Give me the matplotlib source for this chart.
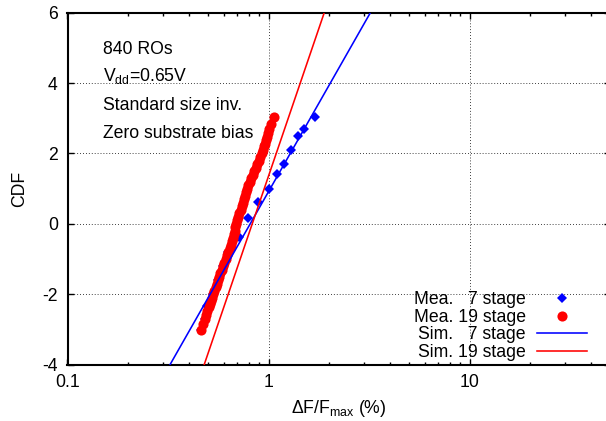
import matplotlib
matplotlib.use("Agg")
import matplotlib.pyplot as plt
from matplotlib.ticker import LogLocator, FixedLocator, NullFormatter

# ---- data ----
mea7_x = [0.461, 0.482, 0.494, 0.530, 0.561, 0.594, 0.630, 0.713, 0.795, 0.886, 1.0, 1.101, 1.201, 1.297, 1.401, 1.505, 1.707]
mea7_y = [-3.03, -2.70, -2.34, -2.00, -1.60, -1.20, -0.80, -0.37, 0.16, 0.63, 1.00, 1.41, 1.69, 2.10, 2.50, 2.69, 3.03]

mea19_y = [-3.03, -2.85, -2.70, -2.58, -2.47, -2.37, -2.28, -2.20, -2.10, -2.00,
           -1.90, -1.80, -1.70, -1.60, -1.50, -1.40, -1.30, -1.20, -1.10, -1.00,
           -0.90, -0.80, -0.70, -0.60, -0.50, -0.40, -0.30, -0.20, -0.10, 0.00,
           0.10, 0.20, 0.30, 0.40, 0.50, 0.60, 0.70, 0.80, 0.90, 1.00,
           1.10, 1.20, 1.30, 1.40, 1.50, 1.60, 1.70, 1.80, 1.90, 2.00,
           2.10, 2.20, 2.28, 2.37, 2.47, 2.58, 2.70, 2.85, 3.03]
mea19_x = [0.461, 0.472, 0.482, 0.490, 0.497, 0.504, 0.511, 0.517, 0.524, 0.530,
           0.537, 0.545, 0.553, 0.561, 0.569, 0.577, 0.585, 0.594, 0.603, 0.612,
           0.621, 0.630, 0.640, 0.649, 0.658, 0.666, 0.673, 0.679, 0.684, 0.689,
           0.697, 0.705, 0.715, 0.727, 0.737, 0.745, 0.754, 0.763, 0.773, 0.782,
           0.793, 0.805, 0.819, 0.836, 0.850, 0.865, 0.880, 0.895, 0.911, 0.927,
           0.942, 0.955, 0.965, 0.975, 0.985, 0.995, 1.008, 1.028, 1.070]

sim7_x = [0.324, 3.21]
sim7_y = [-4.0, 6.0]
sim19_x = [0.479, 1.893]
sim19_y = [-4.0, 6.0]

x_ticks = [0.1, 1, 10]
x_tick_labels = ["0.1", "1", "10"]
y_ticks = [-4, -2, 0, 2, 4, 6]

legend_labels = ["Mea.   7 stage", "Mea. 19 stage", "Sim.   7 stage", "Sim. 19 stage"]
notes = ["840 ROs", r"V$_{\mathrm{dd}}$=0.65V", "Standard size inv.", "Zero substrate bias"]

# ---- style ----
FS = 12.7
plt.rcParams["font.family"] = ["Liberation Sans", "DejaVu Sans"]
plt.rcParams["font.size"] = FS
plt.rcParams["mathtext.fontset"] = "custom"
plt.rcParams["mathtext.rm"] = "Liberation Sans"
plt.rcParams["mathtext.it"] = "Liberation Sans:italic"
plt.rcParams["mathtext.bf"] = "Liberation Sans:bold"

W, H = 606, 421
fig = plt.figure(figsize=(W / 100, H / 100), dpi=100)
L, R, T, B = 67.5, 610, 12.8, 364.5
ax = fig.add_axes([L / W, 1 - B / H, (R - L) / W, (B - T) / H])

ax.set_xscale("log")
ax.set_xlim(0.1, 50)
ax.set_ylim(-4, 6)

h1, = ax.plot(mea7_x, mea7_y, linestyle="none", marker="D", markersize=5.4,
              color="#0000ff", markeredgewidth=0, zorder=3)
h2, = ax.plot(mea19_x, mea19_y, linestyle="none", marker="o", markersize=7.3,
              color="#ff0000", markeredgewidth=0, zorder=4)
h3, = ax.plot(sim7_x, sim7_y, color="#0000ff", linewidth=1.15, zorder=5)
h4, = ax.plot(sim19_x, sim19_y, color="#ff0000", linewidth=1.15, zorder=5)

ax.xaxis.set_major_locator(FixedLocator(x_ticks))
ax.set_xticklabels(x_tick_labels)
ax.xaxis.set_minor_locator(LogLocator(base=10, subs=range(2, 10)))
ax.xaxis.set_minor_formatter(NullFormatter())
ax.set_yticks(y_ticks)
ax.set_yticklabels([str(v) for v in y_ticks])

ax.tick_params(which="both", direction="in", top=True, right=True, width=1.0, colors="black")
ax.tick_params(which="major", length=4.5, pad=7)
ax.tick_params(which="minor", length=2.5)
for s in ax.spines.values():
    s.set_linewidth(1.5)

ax.grid(True, which="major", color="black", linestyle=(0, (1, 2.5)), linewidth=0.6)
ax.set_axisbelow(True)

ax.set_xlabel(r"$\Delta$F/F$_{\mathrm{max}}$ (%)", labelpad=5)
ax.set_ylabel("CDF", labelpad=10)

note_y = [49.3, 76, 106, 133]
for t, yy in zip(notes, note_y):
    fig.text(103 / W, 1 - yy / H, t, va="center", ha="left")

leg = ax.legend([h1, h2, h3, h4], legend_labels, markerfirst=False, frameon=False,
                loc="lower right", bbox_to_anchor=(587.3 / W, 1 - 361 / H),
                bbox_transform=fig.transFigure, borderaxespad=0, borderpad=0,
                handlelength=2.85, handletextpad=0.65, labelspacing=0.03,
                numpoints=1)

fig.savefig("out.png", dpi=100)
